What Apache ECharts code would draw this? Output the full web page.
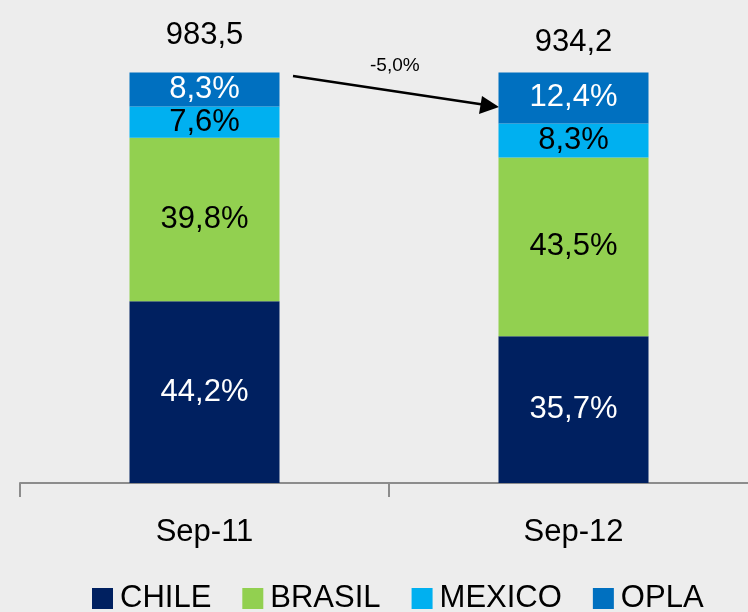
<!DOCTYPE html>
<html>
<head>
<meta charset="utf-8">
<script src="https://cdn.jsdelivr.net/npm/echarts@6/dist/echarts.min.js"></script>
<style>
  html, body { margin: 0; padding: 0; background: #ededed; }
  #chart { width: 748px; height: 612px; }
</style>
</head>
<body>
<div id="chart"></div>
<script>
const categories = ['Sep-11', 'Sep-12'];
const chile = [44.2, 35.7];
const brasil = [39.8, 43.5];
const mexico = [7.6, 8.3];
const opla = [8.3, 12.4];
const totals = ['983,5', '934,2'];
const changeLabel = '-5,0%';

const font = '"Liberation Sans Narrow", "Arial Narrow", "Liberation Sans", sans-serif';
const pct = (v) => v.toFixed(1).replace('.', ',') + '%';

const chart = echarts.init(document.getElementById('chart'));

function part(name, data, color, textColor) {
  return {
    name: name,
    type: 'bar',
    stack: 'total',
    barWidth: 150,
    data: data,
    itemStyle: { color: color },
    label: {
      show: true,
      position: 'inside',
      color: textColor,
      fontFamily: font,
      fontSize: 31,
      formatter: (p) => pct(p.value)
    },
    emphasis: { disabled: true }
  };
}

chart.setOption({
  backgroundColor: '#ededed',
  animation: false,
  // the plot runs past the right edge of the picture (last tick is cut off)
  grid: { left: 20, width: 738, top: 72, bottom: 129, outerBoundsMode: 'none' },
  legend: {
    data: ['CHILE', 'BRASIL', 'MEXICO', 'OPLA'],
    bottom: -7,
    left: 87,
    icon: 'rect',
    itemWidth: 21,
    itemHeight: 21,
    itemGap: 31,
    textStyle: { fontFamily: font, fontSize: 31, color: '#000', padding: [0, 0, 0, 2] }
  },
  xAxis: {
    type: 'category',
    data: categories,
    axisLine: { lineStyle: { color: '#8c8c8c', width: 2 } },
    axisTick: { show: true, length: 14, lineStyle: { color: '#8c8c8c', width: 2 } },
    axisLabel: { margin: 34, fontFamily: font, fontSize: 31, color: '#000' }
  },
  yAxis: { type: 'value', min: 0, max: 100, show: false },
  series: [
    part('CHILE', chile, '#002060', '#fff'),
    part('BRASIL', brasil, '#92d050', '#000'),
    part('MEXICO', mexico, '#00b0f0', '#000'),
    part('OPLA', opla, '#0070c0', '#fff'),
    {
      name: 'Total',
      type: 'bar',
      stack: 'total',
      barWidth: 150,
      data: [
        { value: 0, label: { distance: 21 } },
        { value: 0, label: { distance: 14 } }
      ],
      itemStyle: { color: 'transparent' },
      label: {
        show: true,
        position: 'top',
        color: '#000',
        fontFamily: font,
        fontSize: 31,
        formatter: (p) => totals[p.dataIndex]
      },
      emphasis: { disabled: true }
    }
  ],
  graphic: [
    {
      type: 'line',
      shape: { x1: 293, y1: 76, x2: 486, y2: 105 },
      style: { stroke: '#000', lineWidth: 2.5 }
    },
    {
      type: 'polygon',
      shape: { points: [[499, 107], [482, 96], [479, 114]] },
      style: { fill: '#000' }
    },
    {
      type: 'text',
      left: 370,
      top: 56,
      style: { text: changeLabel, fontFamily: font, fontSize: 19, fill: '#000' }
    }
  ]
});
</script>
</body>
</html>
